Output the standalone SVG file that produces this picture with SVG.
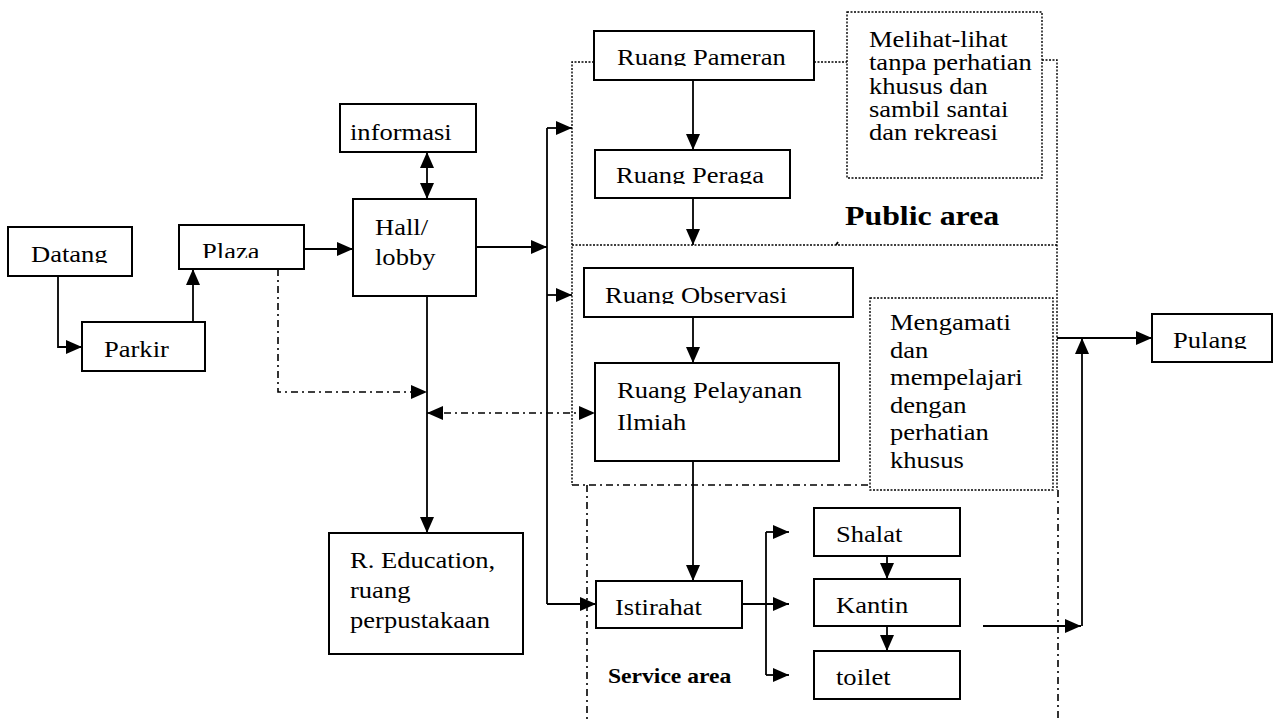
<svg xmlns="http://www.w3.org/2000/svg" width="1275" height="720" viewBox="0 0 1275 720">
  <style>
    .box { fill: #fff; stroke: #000; stroke-width: 2; }
    .note { fill: #fff; stroke: #000; stroke-width: 1.4; stroke-dasharray: 2 1.5; }
    .t { font-family: "Liberation Serif", "Times New Roman", serif; font-size: 22.5px; fill: #000; }
    .big { font-family: "Liberation Serif", "Times New Roman", serif; font-size: 27px; font-weight: bold; fill: #000; }
    .svc { font-family: "Liberation Serif", "Times New Roman", serif; font-size: 20px; font-weight: bold; fill: #000; }
    .flow { fill: none; stroke: #000; stroke-width: 1.8; }
    .dashdot { fill: none; stroke: #000; stroke-width: 1.6; stroke-dasharray: 7 4 2 4; }
    .dotted { fill: none; stroke: #000; stroke-width: 1.4; stroke-dasharray: 2 1.5; }
  </style>
  <defs>
    <marker id="arrow" markerUnits="userSpaceOnUse" markerWidth="16" markerHeight="14" refX="16" refY="7" orient="auto-start-reverse" viewBox="0 0 16 14">
      <path d="M0,0 L16,7 L0,14 Z" fill="#000"/>
    </marker>
    <clipPath id="clipDatang"><rect x="8" y="227" width="124" height="36"/></clipPath>
    <clipPath id="clipPlaza"><rect x="179" y="225" width="125" height="33"/></clipPath>
    <clipPath id="clipPameran"><rect x="594" y="31" width="220" height="35"/></clipPath>
    <clipPath id="clipPeraga"><rect x="595" y="150" width="195" height="34"/></clipPath>
    <clipPath id="clipObservasi"><rect x="584" y="268" width="269" height="36"/></clipPath>
    <clipPath id="clipPulang"><rect x="1152" y="314" width="120" height="35"/></clipPath>
  </defs>

  <!-- zone borders: public area (dotted / dash-dot) and service area -->
  <g id="zones">
    <path class="dotted" d="M594,62 H572 V485"/>
    <path class="dotted" d="M814,62 H847"/>
    <path class="dotted" d="M1042,60 H1057 V490"/>
    <path class="dotted" d="M572,245 H1057"/>
    <path class="flow" d="M836,245 l2,-3" stroke-width="1.2"/>
    <path class="dashdot" d="M572,485 H870"/>
    <path class="dashdot" d="M587,485 V720"/>
    <path class="dashdot" d="M1058,490 V720"/>
  </g>

  <!-- connectors -->
  <g id="connectors">
    <path class="flow" d="M58,276 V347 H82" marker-end="url(#arrow)"/>
    <path class="flow" d="M193,322 V269" marker-end="url(#arrow)"/>
    <path class="flow" d="M304,249 H353" marker-end="url(#arrow)"/>
    <path class="flow" d="M427,152 V199" marker-start="url(#arrow)" marker-end="url(#arrow)"/>
    <path class="flow" d="M476,247 H547" marker-end="url(#arrow)"/>
    <path class="flow" d="M547,128 V604"/>
    <path class="flow" d="M547,128 H572" marker-end="url(#arrow)"/>
    <path class="flow" d="M547,295 H572" marker-end="url(#arrow)"/>
    <path class="flow" d="M547,604 H596" marker-end="url(#arrow)"/>
    <path class="flow" d="M427,296 V533" marker-end="url(#arrow)"/>
    <path class="dashdot" d="M278,269 V392 H427" marker-end="url(#arrow)"/>
    <path class="dashdot" d="M427,413 H595" marker-start="url(#arrow)" marker-end="url(#arrow)"/>
    <path class="flow" d="M693,80 V150" marker-end="url(#arrow)"/>
    <path class="flow" d="M693,198 V245" marker-end="url(#arrow)"/>
    <path class="flow" d="M693,317 V363" marker-end="url(#arrow)"/>
    <path class="flow" d="M693,461 V581" marker-end="url(#arrow)"/>
    <path class="flow" d="M742,604 H789" marker-end="url(#arrow)"/>
    <path class="flow" d="M766,532 V675"/>
    <path class="flow" d="M766,532 H789" marker-end="url(#arrow)"/>
    <path class="flow" d="M766,675 H789" marker-end="url(#arrow)"/>
    <path class="flow" d="M887,556 V579" marker-end="url(#arrow)"/>
    <path class="flow" d="M887,626 V651" marker-end="url(#arrow)"/>
    <path class="flow" d="M983,626 H1081" marker-end="url(#arrow)"/>
    <path class="flow" d="M1082,626 V338" marker-end="url(#arrow)"/>
    <path class="flow" d="M1057,338 H1152" marker-end="url(#arrow)"/>
  </g>

  <g id="datang">
    <rect class="box" x="8" y="227" width="124" height="49"/>
    <g clip-path="url(#clipDatang)"><text class="t" transform="translate(31 262) scale(1.18 1)">Datang</text></g>
  </g>
  <g id="parkir">
    <rect class="box" x="82" y="322" width="123" height="49"/>
    <text class="t" transform="translate(104 357) scale(1.18 1)">Parkir</text>
  </g>
  <g id="plaza">
    <rect class="box" x="179" y="225" width="125" height="44"/>
    <g clip-path="url(#clipPlaza)"><text class="t" transform="translate(202 259) scale(1.18 1)">Plaza</text></g>
  </g>
  <g id="informasi">
    <rect class="box" x="340" y="104" width="136" height="48"/>
    <text class="t" transform="translate(350 140) scale(1.18 1)">informasi</text>
  </g>
  <g id="hall">
    <rect class="box" x="353" y="199" width="123" height="97"/>
    <text class="t" transform="translate(375 235) scale(1.18 1)"><tspan x="0" y="0">Hall/</tspan><tspan x="0" y="30">lobby</tspan></text>
  </g>
  <g id="education">
    <rect class="box" x="329" y="533" width="194" height="121"/>
    <text class="t" transform="translate(350 568) scale(1.18 1)"><tspan x="0" y="0">R. Education,</tspan><tspan x="0" y="30">ruang</tspan><tspan x="0" y="60">perpustakaan</tspan></text>
  </g>
  <g id="pameran">
    <rect class="box" x="594" y="31" width="220" height="49"/>
    <g clip-path="url(#clipPameran)"><text class="t" transform="translate(617 65) scale(1.18 1)">Ruang Pameran</text></g>
  </g>
  <g id="peraga">
    <rect class="box" x="595" y="150" width="195" height="48"/>
    <g clip-path="url(#clipPeraga)"><text class="t" transform="translate(616 183) scale(1.18 1)">Ruang Peraga</text></g>
  </g>
  <g id="note-melihat">
    <rect class="note" x="847" y="12" width="195" height="166"/>
    <text class="t" transform="translate(869 47) scale(1.18 1)"><tspan x="0" y="0">Melihat-lihat</tspan><tspan x="0" y="23.3">tanpa perhatian</tspan><tspan x="0" y="46.6">khusus dan</tspan><tspan x="0" y="70">sambil santai</tspan><tspan x="0" y="93.3">dan rekreasi</tspan></text>
  </g>
  <g id="public-label">
    <text class="big" transform="translate(845 225) scale(1.18 1)">Public area</text>
  </g>
  <g id="observasi">
    <rect class="box" x="584" y="268" width="269" height="49"/>
    <g clip-path="url(#clipObservasi)"><text class="t" transform="translate(605 303) scale(1.18 1)">Ruang Observasi</text></g>
  </g>
  <g id="pelayanan">
    <rect class="box" x="595" y="363" width="244" height="98"/>
    <text class="t" transform="translate(617 398) scale(1.18 1)"><tspan x="0" y="0">Ruang Pelayanan</tspan><tspan x="0" y="32">Ilmiah</tspan></text>
  </g>
  <g id="note-mengamati">
    <rect class="note" x="870" y="298" width="183" height="192"/>
    <text class="t" transform="translate(890 330) scale(1.18 1)"><tspan x="0" y="0">Mengamati</tspan><tspan x="0" y="27.6">dan</tspan><tspan x="0" y="55.2">mempelajari</tspan><tspan x="0" y="82.8">dengan</tspan><tspan x="0" y="110.4">perhatian</tspan><tspan x="0" y="138">khusus</tspan></text>
  </g>
  <g id="istirahat">
    <rect class="box" x="596" y="581" width="146" height="47"/>
    <text class="t" transform="translate(615 615) scale(1.18 1)">Istirahat</text>
  </g>
  <g id="service-label">
    <text class="svc" transform="translate(608 683) scale(1.18 1)">Service area</text>
  </g>
  <g id="shalat">
    <rect class="box" x="814" y="508" width="146" height="48"/>
    <text class="t" transform="translate(836 542) scale(1.18 1)">Shalat</text>
  </g>
  <g id="kantin">
    <rect class="box" x="814" y="579" width="146" height="47"/>
    <text class="t" transform="translate(836 613) scale(1.18 1)">Kantin</text>
  </g>
  <g id="toilet">
    <rect class="box" x="814" y="651" width="146" height="48"/>
    <text class="t" transform="translate(836 685) scale(1.18 1)">toilet</text>
  </g>
  <g id="pulang">
    <rect class="box" x="1152" y="314" width="120" height="48"/>
    <g clip-path="url(#clipPulang)"><text class="t" transform="translate(1173 348) scale(1.18 1)">Pulang</text></g>
  </g>
</svg>
